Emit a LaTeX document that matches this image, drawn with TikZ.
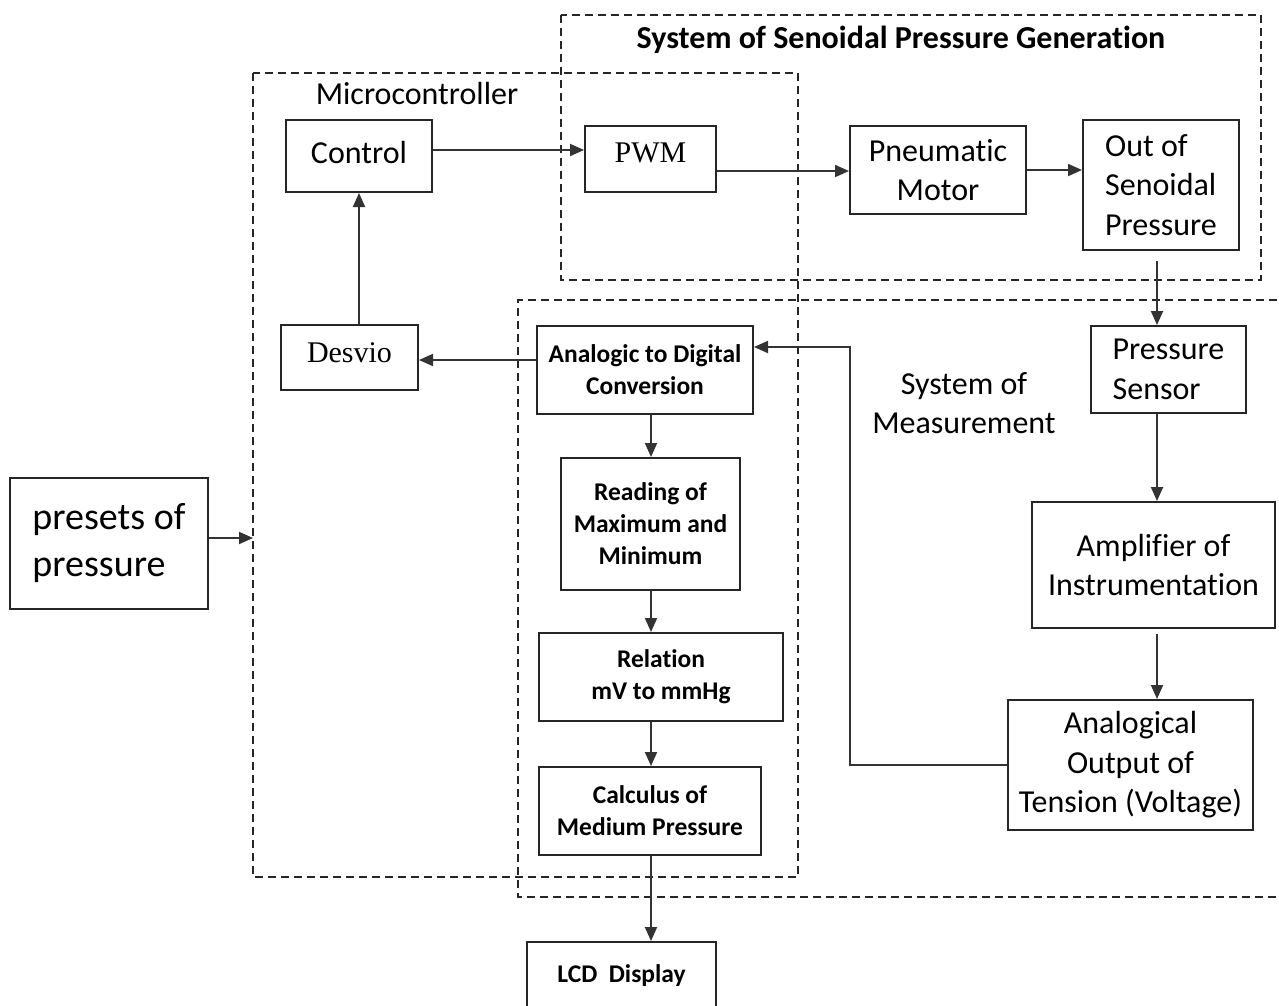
\documentclass[tikz,border=0pt]{standalone}
\usepackage{fontspec}
\setmainfont{Carlito}[Ligatures={NoCommon,NoRare},Contextuals=NoAlternate]
\newfontfamily\serifA{Liberation Serif}
\usetikzlibrary{arrows.meta}
\newcommand{\nl}{\kern0pt}
\begin{document}
\begin{tikzpicture}[x=1pt,y=-1pt,
 box/.style={draw=black!85,line width=2pt,inner sep=0pt,rectangle},
 big/.style={font=\fontsize{32}{39.5}\selectfont},
 huge/.style={font=\fontsize{38}{47}\selectfont},
 small/.style={font=\bfseries\fontsize{25.5}{32}\selectfont},
 serif/.style={font=\serifA\fontsize{30}{36}\selectfont},
 arr/.style={draw=black!80,line width=1.9pt,-{Triangle[length=14pt,width=12pt]}},
 dbox/.style={draw=black!85,line width=1.7pt,dash pattern=on 8pt off 5pt},
 lbl/.style={inner sep=0pt}
]
\useasboundingbox (0,0) rectangle (1279,1005);
\fill[white] (0,0) rectangle (1279,1005);

% dashed group boxes
\draw[dbox] (253,73) rectangle (798,877);
\draw[dbox] (561,15) rectangle (1261,280);
\draw[dbox] (1290,300) -- (518,300) -- (518,897) -- (1290,897);

% group labels
\node[lbl,font=\bfseries\fontsize{32}{39}\selectfont] (tgen) at (901,40) {System of Senoidal Pressure Generat\nl ion};
\node[lbl,big] (tmic) at (417,94) {Microcontroller};
\node[lbl,big,align=center] (tmeas) at (964,403) {System of\\Measurement};

% blocks
\node[box,minimum width=146pt,minimum height=72pt] (ctrl) at (359,156) {};
\node[lbl,big] (ctrlt) at (359,153) {Control};
\node[box,minimum width=131pt,minimum height=66pt] (pwm) at (650.5,159) {};
\node[lbl,serif] (pwmt) at (650.5,153) {PWM};
\node[box,big,align=center,minimum width=176pt,minimum height=88pt] (pneu) at (938,170) {Pneumat\nl ic\\Motor};
\node[box,big,align=left,minimum width=156pt,minimum height=130pt] (out) at (1161,185) {Out of\\Senoidal\\Pressure};
\node[box,big,align=left,minimum width=155pt,minimum height=87pt] (sens) at (1168.5,369.5) {Pressure\\Sensor};
\node[box,big,align=center,minimum width=243pt,minimum height=126pt] (amp) at (1153.5,565) {Amplif\nl ier of\\Instrumentat\nl ion};
\node[box,big,align=center,minimum width=245pt,minimum height=130pt] (ana) at (1130.5,765) {Analogical\\Output of\\Tension (Voltage)};
\node[box,small,align=center,minimum width=216pt,minimum height=88pt] (adc) at (645,370) {Analogic to Digital\\Conversion};
\node[box,minimum width=137pt,minimum height=65pt] (desv) at (349.5,357.5) {};
\node[lbl,serif] (desvt) at (349.5,353) {Desvio};
\node[box,small,align=center,minimum width=179pt,minimum height=132pt] (read) at (650.5,524) {Reading of\\Maximum and\\Minimum};
\node[box,small,align=center,minimum width=244pt,minimum height=88pt] (rel) at (661,677) {Relat\nl ion\\mV to mmHg};
\node[box,small,align=center,minimum width=222pt,minimum height=88pt] (calc) at (650,811) {Calculus of\\Medium Pressure};
\node[box,minimum width=189pt,minimum height=80pt] (lcd) at (621.5,982) {};
\node[lbl,small] (lcdt) at (621.5,976) {LCD\ \ Display};
\node[box,huge,align=left,minimum width=198pt,minimum height=131pt] (pre) at (109,543.5) {presets of\\pressure};

% helper coordinates
\coordinate (vx) at (1157,0);
\coordinate (vy) at (651,0);
\coordinate (fx) at (850,0);
\coordinate (mw) at (253,0);

% connectors
\draw[arr] ([yshift=6pt]ctrl.east) -- ([yshift=6pt]ctrl.east -| pwm.west);
\draw[arr] ([yshift=-12pt]pwm.east) -- ([yshift=-12pt]pwm.east -| pneu.west);
\draw[arr] (pneu.east) -- (pneu.east -| out.west);
\draw[arr] ([yshift=-10pt]out.south -| vx) -- (sens.north -| vx);
\draw[arr] (sens.south -| vx) -- (amp.north -| vx);
\draw[arr] ([yshift=-5pt]amp.south -| vx) -- (ana.north -| vx);
\draw[arr] (ana.west) -- (ana.west -| fx) |- ([yshift=23pt]adc.east);
\draw[arr] ([yshift=10pt]adc.west) -- ([yshift=10pt]adc.west -| desv.east);
\draw[arr] (desv.north -| ctrl.south) -- (ctrl.south);
\draw[arr] (adc.south -| vy) -- (read.north -| vy);
\draw[arr] (read.south -| vy) -- (rel.north -| vy);
\draw[arr] (rel.south -| vy) -- (calc.north -| vy);
\draw[arr] (calc.south -| vy) -- (lcd.north -| vy);
\draw[arr] ([yshift=5.5pt]pre.east) -- ([yshift=5.5pt]pre.east -| mw);
\end{tikzpicture}
\end{document}
